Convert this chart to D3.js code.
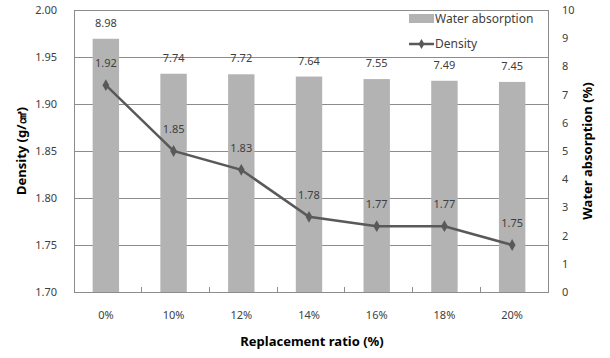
<!DOCTYPE html>
<html><head><meta charset="utf-8">
<script src="https://cdn.jsdelivr.net/npm/d3@7"></script>
<style>body{margin:0;background:#fff}svg{display:block}text{font-family:"Noto Sans",sans-serif}</style>
</head><body><svg id="c" width="610" height="358"></svg>
<script>
const categories = ["0%","10%","12%","14%","16%","18%","20%"];
const waterAbsorption = [8.98,7.74,7.72,7.64,7.55,7.49,7.45];
const density = [1.92,1.85,1.83,1.78,1.77,1.77,1.75];
const densityTicks = [1.70,1.75,1.80,1.85,1.90,1.95,2.00];
const waterTicks = [0,1,2,3,4,5,6,7,8,9,10];

const svg = d3.select("#c");
const L=74, R=548, T=10, B=292;
const x = d3.scaleBand().domain(categories).range([L,R]);
const yD = d3.scaleLinear().domain([1.70,2.00]).range([B,T]);
const yW = d3.scaleLinear().domain([0,10]).range([B,T]);
const txt="#404040", grid="#8c8c8c";

// gridlines
svg.append("g").selectAll("line").data(densityTicks).join("line")
  .attr("x1",L).attr("x2",R).attr("y1",d=>yD(d)).attr("y2",d=>yD(d))
  .attr("stroke",grid).attr("stroke-width",1).attr("shape-rendering","crispEdges");
svg.append("rect").attr("x",L).attr("y",T).attr("width",R-L).attr("height",B-T)
  .attr("fill","none").attr("stroke",grid).attr("shape-rendering","crispEdges");

// bars
const bw = x.bandwidth()*0.39;
svg.append("g").selectAll("rect").data(waterAbsorption).join("rect")
  .attr("x",(d,i)=>x(categories[i])+x.bandwidth()/2-bw/2-2)
  .attr("width",bw).attr("y",d=>yW(d)).attr("height",d=>B-yW(d))
  .attr("fill","#b3b3b3");

// category boundary ticks
svg.append("g").selectAll("line").data(categories.slice(1)).join("line")
  .attr("x1",d=>x(d)).attr("x2",d=>x(d)).attr("y1",B-5).attr("y2",B)
  .attr("stroke",grid).attr("shape-rendering","crispEdges");

// bar labels
svg.append("g").selectAll("text").data(waterAbsorption).join("text")
  .attr("x",(d,i)=>x(categories[i])+x.bandwidth()/2-2).attr("y",d=>yW(d)-12)
  .attr("text-anchor","middle").attr("font-size",11).attr("fill",txt).text(d=>d.toFixed(2));

// density line
const cx=(i)=>x(categories[i])+x.bandwidth()/2-2;
const line=d3.line().x((d,i)=>cx(i)).y(d=>yD(d));
svg.append("path").datum(density).attr("d",line).attr("fill","none")
  .attr("stroke","#595959").attr("stroke-width",2.5);
svg.append("g").selectAll("path").data(density).join("path")
  .attr("d",d3.symbol(d3.symbolDiamond,40))
  .attr("transform",(d,i)=>`translate(${cx(i)},${yD(d)})`).attr("fill","#595959");
svg.append("g").selectAll("text").data(density).join("text")
  .attr("x",(d,i)=>cx(i)).attr("y",d=>yD(d)-18)
  .attr("text-anchor","middle").attr("font-size",11).attr("fill",txt).text(d=>d.toFixed(2));

// left axis labels
svg.append("g").selectAll("text").data(densityTicks).join("text")
  .attr("x",57).attr("y",d=>yD(d)+4).attr("text-anchor","end")
  .attr("font-size",11).attr("fill",txt).text(d=>d.toFixed(2));
// right axis labels
svg.append("g").selectAll("text").data(waterTicks).join("text")
  .attr("x",562).attr("y",d=>yW(d)+4).attr("text-anchor","start")
  .attr("font-size",11).attr("fill",txt).text(d=>d);
// category labels
svg.append("g").selectAll("text").data(categories).join("text")
  .attr("x",(d,i)=>cx(i)).attr("y",319).attr("text-anchor","middle")
  .attr("font-size",11).attr("fill",txt).text(d=>d);

// titles
svg.append("text").attr("x",312).attr("y",346).attr("text-anchor","middle")
  .attr("font-size",13).attr("font-weight","bold").attr("fill","#000").text("Replacement ratio (%)");
svg.append("text").attr("transform","translate(26,151) rotate(-90)").attr("text-anchor","middle")
  .attr("font-size",13).attr("font-weight","bold").attr("fill","#000").text("Density (g/㎤)");
svg.append("text").attr("transform","translate(592,151) rotate(-90)").attr("text-anchor","middle")
  .attr("font-size",13).attr("font-weight","bold").attr("fill","#000").text("Water absorption (%)");

// legend
const lg=svg.append("g");
lg.append("rect").attr("x",409).attr("y",14).attr("width",25).attr("height",9).attr("fill","#b3b3b3");
lg.append("text").attr("x",435).attr("y",22.5).attr("font-size",12).attr("fill",txt).text("Water absorption");
lg.append("line").attr("x1",409).attr("x2",434).attr("y1",44).attr("y2",44).attr("stroke","#595959").attr("stroke-width",2.5);
lg.append("path").attr("d",d3.symbol(d3.symbolDiamond,30)).attr("transform","translate(421.5,44)").attr("fill","#595959");
lg.append("text").attr("x",435).attr("y",48).attr("font-size",12).attr("fill",txt).text("Density");
</script></body></html>
